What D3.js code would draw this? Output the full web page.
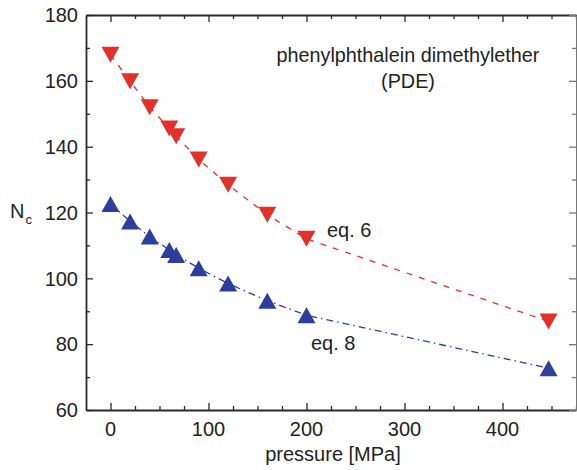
<!DOCTYPE html>
<html>
<head>
<meta charset="utf-8">
<script src="https://cdn.jsdelivr.net/npm/d3@7"></script>
<style>
  body { margin: 0; background: #fff; }
  svg { display: block; font-family: "Liberation Sans", Arial, sans-serif; }
</style>
</head>
<body>
<svg width="577" height="470"></svg>
<script>
// data
var pressure = [0, 20, 40, 60, 67, 90, 120, 160, 200, 447];
var nc_eq6 = [167.9, 159.9, 152.0, 145.5, 143.2, 136.1, 128.4, 119.3, 112.0, 86.9];
var nc_eq8 = [122.6, 117.3, 112.7, 108.6, 107.1, 103.1, 98.4, 93.2, 88.8, 72.7];
var xMajor = [0, 100, 200, 300, 400];
var yMajor = [60, 80, 100, 120, 140, 160, 180];

var red = '#e2302a', blue = '#2c3f9d', axisCol = '#2a2a2a';
var plotL = 86, plotR = 576, plotT = 15, plotB = 410;

var svg = d3.select('svg');

var x = d3.scaleLinear().domain([-25, 475]).range([plotL, plotR]);
var y = d3.scaleLinear().domain([60, 180]).range([plotB, plotT]);

var xMinor = d3.range(0, 476, 25).filter(v => xMajor.indexOf(v) < 0);
var yMinor = d3.range(70, 180, 20);

// frame with inward ticks on all sides
function tickAxis(axis, major, minor, pos, color, width) {
  var g = svg.append('g')
    .attr('transform', pos)
    .call(axis.tickValues(major).tickSizeInner(-7).tickSizeOuter(0).tickFormat(''));
  g.select('.domain').attr('stroke', color).attr('stroke-width', width);
  g.selectAll('.tick line').attr('stroke', color).attr('stroke-width', 1.3);
  var g2 = svg.append('g')
    .attr('transform', pos)
    .call(axis.tickValues(minor).tickSizeInner(-4).tickSizeOuter(0).tickFormat(''));
  g2.select('.domain').remove();
  g2.selectAll('.tick line').attr('stroke', color).attr('stroke-width', 1.3);
}
tickAxis(d3.axisBottom(x), xMajor, xMinor, 'translate(0,' + plotB + ')', axisCol, 1.8);
tickAxis(d3.axisTop(x), xMajor, xMinor, 'translate(0,' + plotT + ')', axisCol, 1.8);
tickAxis(d3.axisLeft(y), yMajor, yMinor, 'translate(' + plotL + ',0)', axisCol, 1.8);
tickAxis(d3.axisRight(y), yMajor, yMinor, 'translate(' + plotR + ',0)', '#777', 1);

// tick labels
svg.append('g').selectAll('text')
  .data(xMajor).enter().append('text')
  .attr('x', d => x(d)).attr('y', 436)
  .attr('text-anchor', 'middle')
  .attr('font-size', 20).attr('fill', '#222')
  .text(d => d);

svg.append('g').selectAll('text')
  .data(yMajor).enter().append('text')
  .attr('x', 78).attr('y', d => y(d)).attr('dy', '0.36em')
  .attr('text-anchor', 'end')
  .attr('font-size', 20).attr('fill', '#222')
  .text(d => d);

// axis titles
svg.append('text')
  .attr('x', 333).attr('y', 461)
  .attr('text-anchor', 'middle')
  .attr('font-size', 20).attr('fill', '#222')
  .text('pressure [MPa]');

var yl = svg.append('text')
  .attr('x', 10).attr('y', 218)
  .attr('font-size', 20).attr('fill', '#222');
yl.append('tspan').text('N');
yl.append('tspan').attr('font-size', 13).attr('dy', 6).attr('dx', 1).text('c');

// annotations
svg.append('text')
  .attr('x', 408).attr('y', 62)
  .attr('text-anchor', 'middle')
  .attr('font-size', 19.8).attr('fill', '#222')
  .text('phenylphthalein dimethylether');
svg.append('text')
  .attr('x', 408).attr('y', 88)
  .attr('text-anchor', 'middle')
  .attr('font-size', 19.8).attr('fill', '#222')
  .text('(PDE)');
svg.append('text')
  .attr('x', 327).attr('y', 237)
  .attr('font-size', 20).attr('fill', '#222')
  .text('eq. 6');
svg.append('text')
  .attr('x', 311).attr('y', 350)
  .attr('font-size', 20).attr('fill', '#222')
  .text('eq. 8');

var d6 = pressure.map((p, i) => ({p: p, v: nc_eq6[i]}));
var d8 = pressure.map((p, i) => ({p: p, v: nc_eq8[i]}));

var line = d3.line().x(d => x(d.p)).y(d => y(d.v));

svg.append('path').datum(d6)
  .attr('d', line)
  .attr('fill', 'none').attr('stroke', red)
  .attr('stroke-width', 1.3).attr('stroke-dasharray', '6,7');

svg.append('path').datum(d8)
  .attr('d', line)
  .attr('fill', 'none').attr('stroke', blue)
  .attr('stroke-width', 1.3).attr('stroke-dasharray', '7,4,1.5,4');

// triangle markers, w 18, h 16, centred on the point
var tw = 9, th = 8;
svg.append('g').selectAll('path')
  .data(d6).enter().append('path')
  .attr('transform', d => 'translate(' + x(d.p) + ',' + y(d.v) + ')')
  .attr('d', 'M' + (-tw) + ',' + (-th) + 'L' + tw + ',' + (-th) + 'L0,' + th + 'Z')
  .attr('fill', red);

svg.append('g').selectAll('path')
  .data(d8).enter().append('path')
  .attr('transform', d => 'translate(' + x(d.p) + ',' + y(d.v) + ')')
  .attr('d', 'M' + (-tw) + ',' + th + 'L' + tw + ',' + th + 'L0,' + (-th) + 'Z')
  .attr('fill', blue);
</script>
</body>
</html>
